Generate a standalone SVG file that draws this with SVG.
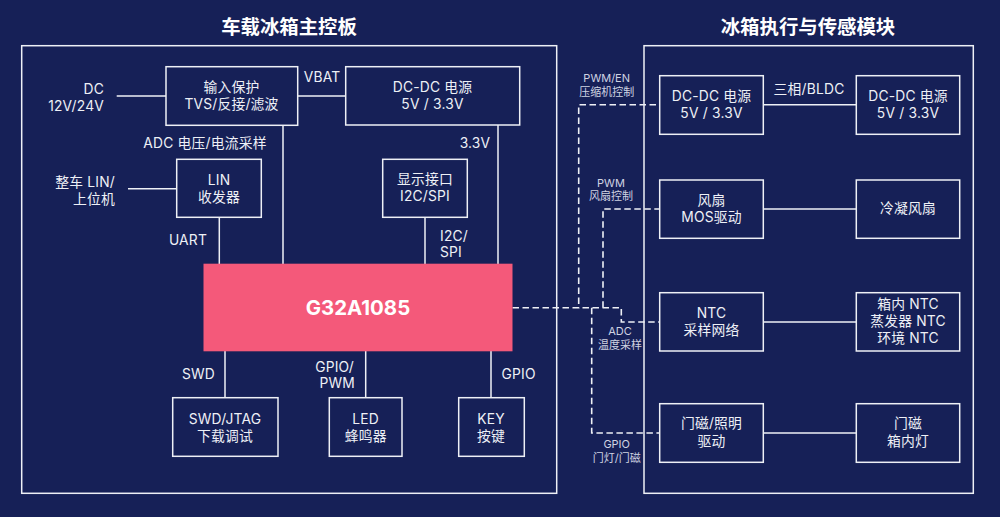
<svg xmlns="http://www.w3.org/2000/svg" width="1000" height="517" viewBox="0 0 1000 517">
<style>
text{font-family:"Inter","Noto Sans CJK SC",sans-serif;fill:#eef0f6;font-size:13.8px;letter-spacing:.2px;text-anchor:middle}
.b{fill:none;stroke:#eef0f6;stroke-width:1.5}
.l{fill:none;stroke:#eef0f6;stroke-width:1.5}
.d{fill:none;stroke:#eef0f6;stroke-width:1.6;stroke-dasharray:6.500 3.500}
.t{font-size:19.400px;font-weight:700;fill:#fff;letter-spacing:0}
.s{font-size:11px;fill:#cfd3e2;letter-spacing:0}
.e{text-anchor:end}
.a{text-anchor:start}
</style>
<rect width="1000" height="517" fill="#162057"/>
<g id="panels">
<rect class="b" x="21.700" y="45.700" width="535" height="447.600"/>
<rect class="b" x="644" y="45.700" width="329.300" height="447.600"/>
<text class="t" x="289" y="34">车载冰箱主控板</text>
<text class="t" x="808" y="34">冰箱执行与传感模块</text>
</g>
<g id="connectors">
<path class="l" d="M116.700 96H166M297.700 96H345.700M283 125V264M219.300 217V264M176.700 188.700H128M498 125V264M425 217V264M225 351V398M365.700 351V398M491 351V398M763.300 104.700H856.300M763.300 209H856.300M763.300 322H856.300M763.300 433H856.300"/>
<path class="d" d="M512.500 307.700H578.700V104.700H659.700M603 307.700V209H659.700M512.500 307.700H621.300V322H659.700M591.700 307.700V433H659.700"/>
</g>
<g id="input-protect"><rect class="b" x="166" y="66.700" width="131.700" height="58.600"/><text x="231.500" y="92">输入保护</text><text x="231.500" y="109">TVS/反接/滤波</text></g>
<g id="dcdc-main"><rect class="b" x="345.700" y="66.700" width="174" height="58.300"/><text x="432.500" y="92">DC-DC 电源</text><text x="432.500" y="109">5V / 3.3V</text></g>
<g id="lin"><rect class="b" x="176.700" y="159.300" width="84.600" height="58"/><text x="219" y="185">LIN</text><text x="219" y="202">收发器</text></g>
<g id="display"><rect class="b" x="382.700" y="159.300" width="84.600" height="58"/><text x="425" y="184">显示接口</text><text x="425" y="201">I2C/SPI</text></g>
<g id="mcu"><rect x="203.500" y="263.700" width="309" height="87.600" fill="#f4597a"/><text x="358" y="315" style="font-size:20.400px;font-weight:700;fill:#fff;letter-spacing:0">G32A1085</text></g>
<g id="swd"><rect class="b" x="172.700" y="397.700" width="105.300" height="58.600"/><text x="225" y="424">SWD/JTAG</text><text x="225" y="441">下载调试</text></g>
<g id="led"><rect class="b" x="329.300" y="397.700" width="72.700" height="58.600"/><text x="365.700" y="424">LED</text><text x="365.700" y="441">蜂鸣器</text></g>
<g id="key"><rect class="b" x="458.700" y="397.700" width="65.600" height="58.600"/><text x="491" y="424">KEY</text><text x="491" y="441">按键</text></g>
<g id="dcdc-a"><rect class="b" x="659.700" y="75.700" width="103.600" height="58.600"/><text x="711.500" y="101">DC-DC 电源</text><text x="711.500" y="118">5V / 3.3V</text></g>
<g id="dcdc-b"><rect class="b" x="856.300" y="75.700" width="103.400" height="58.600"/><text x="908" y="101">DC-DC 电源</text><text x="908" y="118">5V / 3.3V</text></g>
<g id="fan-drv"><rect class="b" x="659.700" y="180" width="103.600" height="58.300"/><text x="711.500" y="205">风扇</text><text x="711.500" y="222">MOS驱动</text></g>
<g id="fan"><rect class="b" x="856.300" y="180" width="103.400" height="58.300"/><text x="908" y="213">冷凝风扇</text></g>
<g id="ntc-net"><rect class="b" x="659.700" y="292.700" width="103.600" height="58.300"/><text x="711.500" y="318">NTC</text><text x="711.500" y="335">采样网络</text></g>
<g id="ntc"><rect class="b" x="856.300" y="292.700" width="103.400" height="58.300"/><text x="908" y="309">箱内 NTC</text><text x="908" y="326">蒸发器 NTC</text><text x="908" y="343">环境 NTC</text></g>
<g id="door-drv"><rect class="b" x="659.700" y="403.700" width="103.600" height="58.600"/><text x="711.500" y="428">门磁/照明</text><text x="711.500" y="445.500">驱动</text></g>
<g id="door"><rect class="b" x="856.300" y="403.700" width="103.400" height="58.600"/><text x="908" y="428">门磁</text><text x="908" y="445.500">箱内灯</text></g>
<g id="labels">
<text class="e" x="104" y="94">DC</text><text class="e" x="104" y="111">12V/24V</text>
<text x="322" y="82">VBAT</text><text x="205" y="148">ADC 电压/电流采样</text><text x="475" y="148">3.3V</text>
<text class="e" x="115" y="187">整车 LIN/</text><text class="e" x="115" y="204">上位机</text>
<text class="e" x="207" y="245">UART</text><text class="a" x="440" y="241">I2C/</text><text class="a" x="440" y="257">SPI</text>
<text class="e" x="215" y="379">SWD</text><text class="e" x="354" y="372">GPIO/</text><text class="e" x="355" y="388">PWM</text><text class="a" x="501.500" y="379">GPIO</text>
<text x="809" y="94">三相/BLDC</text>
<text class="s" x="606.700" y="82">PWM/EN</text><text class="s" x="606.700" y="96">压缩机控制</text>
<text class="s" x="611" y="186.500">PWM</text><text class="s" x="611" y="200">风扇控制</text>
<text class="s" x="620" y="335">ADC</text><text class="s" x="620" y="349">温度采样</text>
<text class="s" x="616.700" y="448">GPIO</text><text class="s" x="616.700" y="462">门灯/门磁</text>
</g>
</svg>
